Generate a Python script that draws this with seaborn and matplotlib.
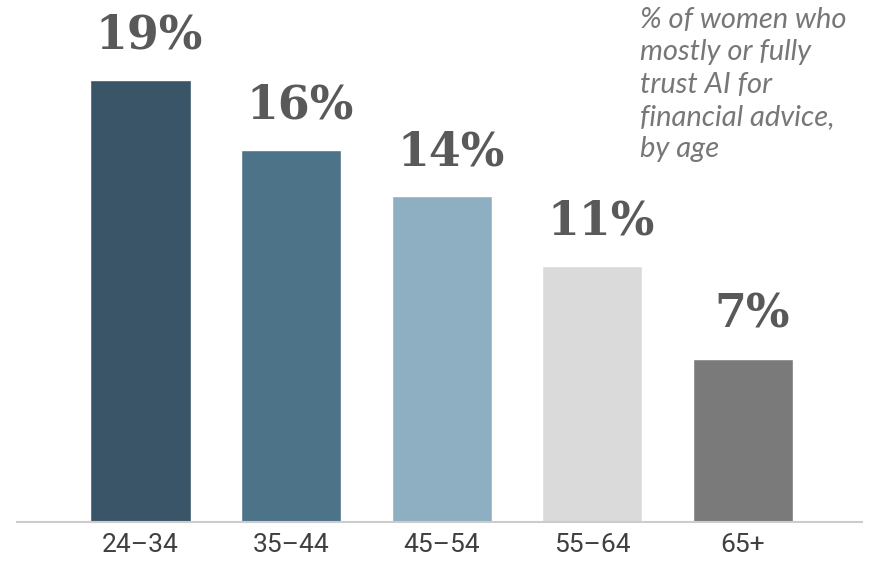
import matplotlib
matplotlib.use("Agg")
import matplotlib.pyplot as plt
import seaborn as sns
import pandas as pd

categories = ["24–34", "35–44", "45–54", "55–64", "65+"]
values = [19, 16, 14, 11, 7]
labels = ["19%", "16%", "14%", "11%", "7%"]
colors = ["#3b5568", "#4d7389", "#8eafc2", "#dadada", "#7a7a7a"]
note = "% of women who\nmostly or fully\ntrust AI for\nfinancial advice,\nby age"

sns.set_style("white")
df = pd.DataFrame({"age": categories, "pct": values})

fig = plt.figure(figsize=(8.7, 5.62), dpi=100)
ax = fig.add_axes([17/870, 1-522/562, (862-17)/870, 522/562])
sns.barplot(data=df, x="age", y="pct", hue="age", palette=colors, legend=False,
            width=0.665, saturation=1, ax=ax)
ax.set_xlim(-0.82, 4.79)
ax.set_ylim(0, 22.45)
for s in ["top", "right", "left"]:
    ax.spines[s].set_visible(False)
ax.spines["bottom"].set_color("#cccccc")
ax.spines["bottom"].set_linewidth(1.5)
ax.set_yticks([])
ax.set_xlabel("")
ax.set_ylabel("")
ax.tick_params(axis="x", length=0, pad=8)
for t in ax.get_xticklabels():
    t.set_fontfamily(["Roboto", "DejaVu Sans"])
    t.set_fontweight("normal")
    t.set_fontsize(19)
    t.set_color("#404040")

for i, (v, lab) in enumerate(zip(values, labels)):
    ax.text(i + 0.06, v + 1.35, lab, ha="center", va="baseline",
            fontfamily=["DejaVu Serif"], fontweight="bold", fontsize=33,
            color="#595959")

fig.text(640/870, 1-7/562, note, ha="left", va="top", fontfamily=["Lato", "DejaVu Sans"],
         style="italic", fontweight="normal", fontsize=21, color="#777777",
         linespacing=1.3)

fig.savefig("out.png", dpi=100)
